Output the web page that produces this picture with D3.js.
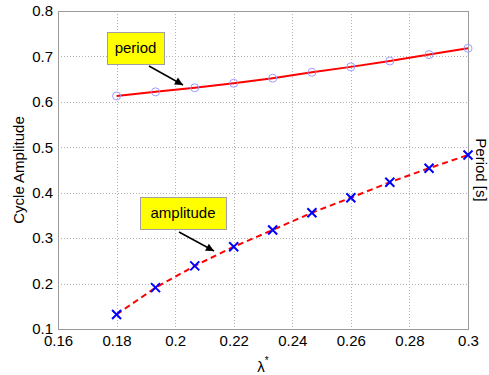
<!DOCTYPE html>
<html>
<head>
<meta charset="utf-8">
<script src="https://cdn.jsdelivr.net/npm/d3@7"></script>
<style>
  body { margin: 0; background: #fff; }
  text { font-family: "Liberation Sans", Arial, sans-serif; }
</style>
</head>
<body>
<div id="chart"></div>
<script>
// values
const lambda = [0.18, 0.1933, 0.2067, 0.22, 0.2333, 0.2467, 0.26, 0.2733, 0.2867, 0.3];
const period = [0.613, 0.622, 0.631, 0.641, 0.652, 0.665, 0.677, 0.690, 0.704, 0.718];
const amplitude = [0.132, 0.191, 0.239, 0.281, 0.318, 0.356, 0.389, 0.423, 0.454, 0.483];
const xTicks = [0.16, 0.18, 0.2, 0.22, 0.24, 0.26, 0.28, 0.3];
const yTicks = [0.1, 0.2, 0.3, 0.4, 0.5, 0.6, 0.7, 0.8];

const width = 489, height = 375;
const margin = { top: 11, right: 21, bottom: 46, left: 58 };

const svg = d3.select('#chart').append('svg')
    .attr('width', width)
    .attr('height', height);

const x = d3.scaleLinear().domain([0.16, 0.3]).range([margin.left, width - margin.right]);
const y = d3.scaleLinear().domain([0.1, 0.8]).range([height - margin.bottom, margin.top]);

// grid
const grid = svg.append('g').attr('stroke', '#b4b4b4').attr('stroke-dasharray', '1,2').attr('stroke-width', 1);
grid.selectAll('line.vx').data(xTicks.slice(1, -1)).enter().append('line')
    .attr('x1', d => Math.round(x(d)) + 0.5).attr('x2', d => Math.round(x(d)) + 0.5)
    .attr('y1', y(0.8)).attr('y2', y(0.1));
grid.selectAll('line.hy').data(yTicks.slice(1, -1)).enter().append('line')
    .attr('y1', d => Math.round(y(d)) + 0.5).attr('y2', d => Math.round(y(d)) + 0.5)
    .attr('x1', x(0.16)).attr('x2', x(0.3));

// axes box
svg.append('rect')
    .attr('x', Math.round(x(0.16)) + 0.5).attr('y', Math.round(y(0.8)) + 0.5)
    .attr('width', Math.round(x(0.3)) - Math.round(x(0.16)))
    .attr('height', Math.round(y(0.1)) - Math.round(y(0.8)))
    .attr('fill', 'none').attr('stroke', '#9a9a9a');

// tick labels
const xAxis = svg.append('g').attr('transform', 'translate(0,' + y(0.1) + ')')
    .call(d3.axisBottom(x).tickValues(xTicks).tickSize(0).tickPadding(6).tickFormat(d3.format('')));
const yAxis = svg.append('g').attr('transform', 'translate(' + x(0.16) + ',0)')
    .call(d3.axisLeft(y).tickValues(yTicks).tickSize(0).tickPadding(5).tickFormat(d3.format('')));
[xAxis, yAxis].forEach(a => {
  a.select('.domain').remove();
  a.selectAll('text').attr('font-size', 15).attr('fill', '#000')
      .style('font-family', '"Liberation Sans", Arial, sans-serif');
});

// period line
svg.append('path')
    .datum(lambda.map((l, i) => [l, period[i]]))
    .attr('fill', 'none').attr('stroke', '#ff0000').attr('stroke-width', 2)
    .attr('d', d3.line().x(d => x(d[0])).y(d => y(d[1])));
svg.selectAll('circle.p').data(lambda).enter().append('circle')
    .attr('cx', d => x(d)).attr('cy', (d, i) => y(period[i])).attr('r', 4)
    .attr('fill', 'none').attr('stroke', '#9c9cff').attr('stroke-width', 1);

// amplitude line
svg.append('path')
    .datum(lambda.map((l, i) => [l, amplitude[i]]))
    .attr('fill', 'none').attr('stroke', '#ff0000').attr('stroke-width', 2)
    .attr('stroke-dasharray', '6,4')
    .attr('d', d3.line().x(d => x(d[0])).y(d => y(d[1])));
const s = 4.5;
svg.selectAll('path.x').data(lambda).enter().append('path')
    .attr('d', (d, i) => {
      const cx = x(d), cy = y(amplitude[i]);
      return 'M' + (cx - s) + ',' + (cy - s) + 'L' + (cx + s) + ',' + (cy + s) +
             'M' + (cx - s) + ',' + (cy + s) + 'L' + (cx + s) + ',' + (cy - s);
    })
    .attr('stroke', '#0000ff').attr('stroke-width', 2).attr('fill', 'none');

// annotations
svg.append('defs').append('marker')
    .attr('id', 'arr').attr('viewBox', '0 0 10 10').attr('refX', 10).attr('refY', 5)
    .attr('markerWidth', 10).attr('markerHeight', 8).attr('markerUnits', 'userSpaceOnUse')
    .attr('orient', 'auto')
    .append('path').attr('d', 'M0,0L10,5L0,10z').attr('fill', '#000');

function note(label, bx, by, bw, bh, ax1, ay1, ax2, ay2) {
  svg.append('rect').attr('x', bx + 0.5).attr('y', by + 0.5).attr('width', bw).attr('height', bh)
      .attr('fill', '#ffff00').attr('stroke', '#a0a0a0');
  svg.append('text').attr('x', bx + bw / 2).attr('y', by + bh / 2 + 5)
      .attr('text-anchor', 'middle').attr('font-size', 15).text(label);
  svg.append('line').attr('x1', ax1).attr('y1', ay1).attr('x2', ax2).attr('y2', ay2)
      .attr('stroke', '#000').attr('stroke-width', 1.5).attr('marker-end', 'url(#arr)');
}
note('period', 107, 32, 57, 32, 149, 66, 183, 85);
note('amplitude', 140, 197, 86, 32, 179, 232, 214, 251);

// axis labels
svg.append('text')
    .attr('transform', 'translate(24,' + (y(0.45)) + ') rotate(-90)')
    .attr('text-anchor', 'middle').attr('font-size', 15).text('Cycle Amplitude');
svg.append('text')
    .attr('transform', 'translate(476,' + (y(0.45)) + ') rotate(90)')
    .attr('text-anchor', 'middle').attr('font-size', 15).text('Period [s]');
const xl = svg.append('text').attr('x', x(0.23)).attr('y', 372)
    .attr('text-anchor', 'middle').attr('font-size', 15);
xl.append('tspan').text('λ');
xl.append('tspan').attr('dy', -8).attr('font-size', 10).text('*');
</script>
</body>
</html>
